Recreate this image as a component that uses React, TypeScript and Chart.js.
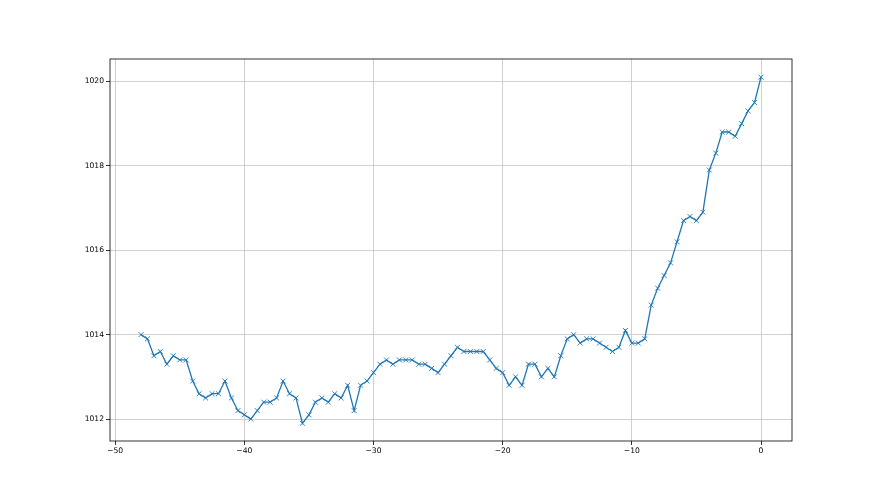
import React, { useEffect, useRef } from "react";
import { Chart, registerables } from "chart.js";

Chart.register(...registerables);

const xStart = -48;
const xStep = 0.5;
const pressure: number[] = [
  1014.0, 1013.9, 1013.5, 1013.6, 1013.3, 1013.5, 1013.4, 1013.4, 1012.9, 1012.6,
  1012.5, 1012.6, 1012.6, 1012.9, 1012.5, 1012.2, 1012.1, 1012.0, 1012.2, 1012.4,
  1012.4, 1012.5, 1012.9, 1012.6, 1012.5, 1011.9, 1012.1, 1012.4, 1012.5, 1012.4,
  1012.6, 1012.5, 1012.8, 1012.2, 1012.8, 1012.9, 1013.1, 1013.3, 1013.4, 1013.3,
  1013.4, 1013.4, 1013.4, 1013.3, 1013.3, 1013.2, 1013.1, 1013.3, 1013.5, 1013.7,
  1013.6, 1013.6, 1013.6, 1013.6, 1013.4, 1013.2, 1013.1, 1012.8, 1013.0, 1012.8,
  1013.3, 1013.3, 1013.0, 1013.2, 1013.0, 1013.5, 1013.9, 1014.0, 1013.8, 1013.9,
  1013.9, 1013.8, 1013.7, 1013.6, 1013.7, 1014.1, 1013.8, 1013.8, 1013.9, 1014.7,
  1015.1, 1015.4, 1015.7, 1016.2, 1016.7, 1016.8, 1016.7, 1016.9, 1017.9, 1018.3,
  1018.8, 1018.8, 1018.7, 1019.0, 1019.3, 1019.5, 1020.1,
];
const xTicks: number[] = [-50, -40, -30, -20, -10, 0];
const yTicks: number[] = [1012, 1014, 1016, 1018, 1020];

const fmt = (v: number) => (v < 0 ? "\u2212" + String(-v) : String(v));

const frame = {
  id: "frame",
  afterDraw(chart: any) {
    const { ctx, chartArea } = chart;
    ctx.save();
    ctx.strokeStyle = "#000";
    ctx.lineWidth = 0.8;
    ctx.strokeRect(chartArea.left, chartArea.top, chartArea.right - chartArea.left, chartArea.bottom - chartArea.top);
    ctx.restore();
  },
};

export default function App() {
  const ref = useRef<HTMLCanvasElement | null>(null);
  useEffect(() => {
    if (!ref.current) return;
    const data = pressure.map((y, i) => ({ x: xStart + i * xStep, y }));
    const chart = new Chart(ref.current, {
      type: "line",
      data: {
        datasets: [
          {
            data,
            borderColor: "#1f77b4",
            borderWidth: 1.3,
            tension: 0,
            pointStyle: "crossRot",
            pointRadius: 3.5,
            pointBorderWidth: 0.9,
            pointBorderColor: "#1f77b4",
            pointBackgroundColor: "#1f77b4",
            fill: false,
          },
        ],
      },
      options: {
        animation: false,
        responsive: false,
        events: [],
        layout: { padding: { left: 0, top: 59, right: 88, bottom: 0 } },
        plugins: { legend: { display: false }, tooltip: { enabled: false } },
        scales: {
          x: {
            type: "linear",
            min: -50.4,
            max: 2.4,
            afterFit: (s: any) => { s.height = 54; },
            afterBuildTicks: (s: any) => { s.ticks = xTicks.map((v) => ({ value: v })); },
            grid: { color: "#c4c4c4", lineWidth: 0.8, tickColor: "#000", tickLength: 4, tickWidth: 0.8 },
            border: { display: false },
            ticks: {
              color: "#000",
              font: { family: "DejaVu Sans", size: 7.6 },
              padding: 1,
              maxRotation: 0,
              callback: (v: any) => fmt(Number(v)),
            },
          },
          y: {
            type: "linear",
            min: 1011.48,
            max: 1020.53,
            afterFit: (s: any) => { s.width = 110; },
            afterBuildTicks: (s: any) => { s.ticks = yTicks.map((v) => ({ value: v })); },
            grid: { color: "#c4c4c4", lineWidth: 0.8, tickColor: "#000", tickLength: 4, tickWidth: 0.8 },
            border: { display: false },
            ticks: {
              color: "#000",
              font: { family: "DejaVu Sans", size: 7.6 },
              padding: 2,
              callback: (v: any) => fmt(Number(v)),
            },
          },
        },
      },
      plugins: [frame],
    });
    return () => chart.destroy();
  }, []);
  return (
    <div style={{ position: "fixed", left: 0, top: 0, width: 880, height: 495, background: "#fff" }}>
      <canvas ref={ref} width={880} height={495} style={{ display: "block" }} />
    </div>
  );
}
